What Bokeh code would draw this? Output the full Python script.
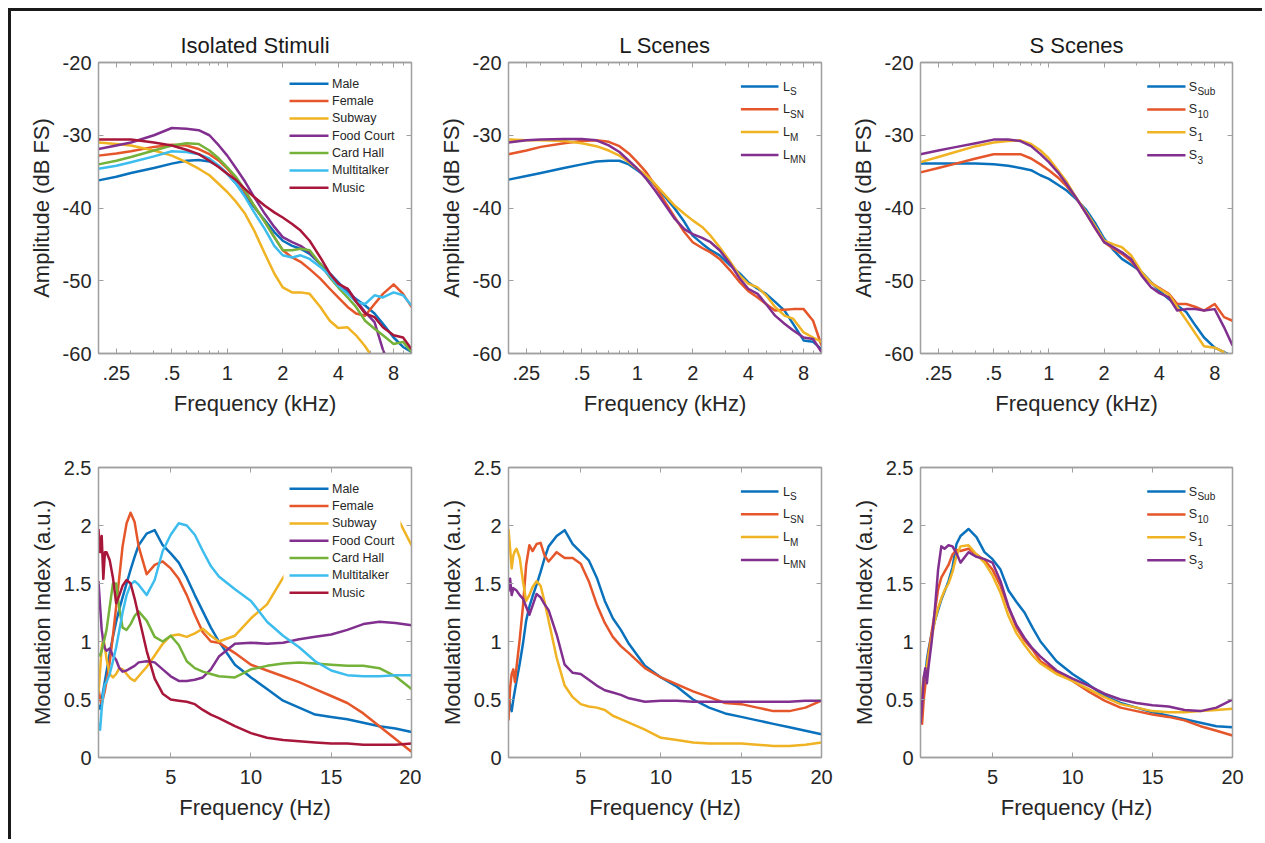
from bokeh.plotting import figure
from bokeh.models import (Range1d, FixedTicker, LogAxis, LinearAxis, Label, Arrow,
                          BoxAnnotation, CustomJSTickFormatter)
from bokeh.layouts import column, row
from bokeh.embed import file_html
from bokeh.resources import INLINE

# ---------------- data ----------------
F_KHZ = [0.2, 0.25, 0.3, 0.4, 0.5, 0.6, 0.7, 0.8, 0.9, 1.0, 1.12, 1.25, 1.4, 1.6, 1.8,
         2.0, 2.25, 2.5, 2.8, 3.2, 3.6, 4.0, 4.5, 5.0, 5.6, 6.3, 7.0, 8.0, 9.0, 10.0]

AMP_MALE = [-36.2, -35.7, -35.2, -34.5, -33.9, -33.5, -33.4, -33.6, -34.2, -35.3, -36.7, -38.3, -39.9, -41.7, -43.3,
            -44.5, -45.2, -45.6, -46.3, -47.7, -49.0, -50.2, -51.6, -52.5, -53.4, -54.5, -55.9, -57.8, -59.1, -59.8]
AMP_FEMALE = [-32.8, -32.5, -32.2, -31.6, -31.3, -31.4, -31.9, -32.6, -33.5, -34.6, -36.0, -37.8, -39.7, -41.9, -44.0,
              -45.8, -46.8, -47.4, -48.4, -49.7, -51.1, -52.3, -53.6, -54.5, -54.8, -53.2, -51.8, -50.5, -51.8, -53.6]
AMP_SUBWAY = [-31.0, -31.2, -31.4, -32.1, -32.8, -33.7, -34.6, -35.5, -36.7, -37.8, -39.2, -40.8, -43.1, -46.3, -49.0,
              -50.9, -51.6, -51.6, -51.8, -53.6, -55.5, -56.5, -56.4, -57.5, -59.0, -61.0, -63.0, -65.0, -67.0, -69.0]
AMP_FOOD = [-31.9, -31.4, -31.0, -30.0, -29.0, -29.1, -29.3, -30.0, -31.4, -32.8, -34.6, -36.4, -38.5, -40.8, -42.6,
            -44.0, -44.7, -45.2, -46.1, -47.7, -49.5, -50.8, -51.1, -52.7, -54.3, -55.7, -59.5, -63.0, -65.0, -67.0]
AMP_CARD = [-34.0, -33.5, -33.0, -32.1, -31.4, -31.1, -31.2, -32.1, -33.2, -34.4, -35.8, -37.6, -39.7, -41.9, -44.0,
            -45.8, -45.8, -45.6, -45.8, -47.7, -49.5, -50.9, -52.3, -53.6, -55.5, -56.6, -57.5, -58.7, -58.4, -59.8]
AMP_MULTI = [-34.6, -34.2, -33.7, -32.9, -32.2, -32.3, -32.6, -33.2, -34.2, -35.3, -36.7, -38.5, -40.6, -42.9, -45.2,
             -46.5, -46.8, -46.5, -47.0, -48.1, -49.3, -50.7, -51.8, -52.9, -53.2, -52.0, -52.3, -51.6, -52.0, -53.4]
AMP_MUSIC = [-30.6, -30.6, -30.6, -31.0, -31.4, -32.0, -32.6, -33.5, -34.4, -35.3, -36.2, -37.4, -38.5, -39.7, -40.6,
             -41.3, -42.2, -43.1, -44.5, -46.8, -49.0, -50.4, -51.1, -52.9, -54.5, -55.0, -56.4, -57.5, -57.8, -59.4]

AMP_LS = [-36.1, -35.6, -35.2, -34.5, -34.0, -33.6, -33.5, -33.5, -34.0, -34.8, -35.7, -36.9, -38.3, -40.1, -41.9,
          -43.8, -44.9, -45.8, -46.5, -47.9, -49.0, -50.2, -51.1, -51.8, -52.9, -54.1, -55.9, -58.2, -58.4, -59.4]
AMP_LSN = [-32.6, -32.1, -31.6, -31.1, -30.8, -30.7, -30.9, -31.5, -32.5, -33.7, -35.1, -36.9, -39.0, -41.3, -43.3,
           -44.7, -45.5, -46.1, -47.0, -48.6, -50.2, -51.4, -52.3, -53.2, -54.1, -54.0, -53.9, -53.9, -55.5, -58.9]
AMP_LM = [-30.6, -30.7, -30.7, -30.8, -31.1, -31.5, -32.1, -32.8, -33.7, -34.6, -35.5, -36.7, -38.1, -39.7, -40.8,
          -41.7, -42.6, -43.8, -45.4, -47.4, -49.3, -50.4, -50.9, -52.0, -53.6, -54.8, -55.2, -57.1, -57.8, -58.4]
AMP_LMN = [-31.0, -30.7, -30.6, -30.5, -30.5, -30.7, -31.4, -32.3, -33.5, -34.6, -36.0, -37.6, -39.4, -41.5, -42.9,
           -43.6, -44.1, -44.7, -45.8, -47.7, -49.7, -51.1, -51.8, -53.2, -54.8, -55.9, -56.8, -57.8, -58.0, -59.8]

AMP_SSUB = [-33.9, -33.9, -33.9, -33.9, -34.0, -34.2, -34.5, -34.8, -35.5, -36.0, -36.8, -37.6, -38.7, -40.3, -42.2,
            -44.2, -45.8, -47.0, -47.8, -48.8, -50.2, -51.4, -52.5, -53.4, -54.3, -56.2, -57.8, -59.2, -59.8, -60.4]
AMP_S10 = [-35.1, -34.5, -34.0, -33.2, -32.6, -32.6, -32.6, -33.2, -34.0, -34.8, -35.8, -37.0, -38.5, -40.8, -42.9,
           -44.7, -45.6, -46.3, -47.3, -49.0, -50.3, -51.0, -51.8, -53.2, -53.2, -53.6, -54.1, -53.2, -55.0, -55.5]
AMP_S1 = [-33.7, -33.0, -32.4, -31.5, -31.0, -30.8, -30.7, -31.2, -32.1, -33.2, -34.8, -36.4, -38.5, -40.6, -42.6,
          -44.5, -45.0, -45.4, -46.5, -48.8, -50.3, -51.1, -51.9, -53.6, -55.4, -57.3, -59.0, -59.2, -59.8, -61.0]
AMP_S3 = [-32.6, -32.1, -31.7, -31.1, -30.6, -30.6, -30.8, -31.5, -32.6, -33.7, -35.1, -36.7, -38.5, -40.8, -42.9,
          -44.7, -45.4, -46.1, -47.0, -49.3, -50.9, -51.7, -52.3, -54.1, -53.9, -53.9, -54.1, -53.9, -56.4, -58.9]

F_HZ = [0.5, 0.6, 0.7, 0.8, 0.9, 1.0, 1.2, 1.4, 1.6, 1.8, 2.0, 2.25, 2.5, 2.75, 3.0, 3.5, 4.0, 4.5, 5.0,
        5.5, 6.0, 6.5, 7.0, 7.5, 8.0, 9.0, 10, 11, 12, 13, 14, 15, 16, 17, 18, 19, 20]

MI_MALE = [0.45, 0.42, 0.50, 0.58, 0.66, 0.74, 0.90, 1.04, 1.17, 1.28, 1.38, 1.50, 1.62, 1.73, 1.83, 1.93, 1.96, 1.83, 1.76,
           1.68, 1.55, 1.40, 1.26, 1.12, 1.00, 0.80, 0.69, 0.59, 0.49, 0.43, 0.37, 0.35, 0.33, 0.30, 0.27, 0.25, 0.22]
MI_FEMALE = [0.60, 0.50, 0.46, 0.52, 0.58, 0.66, 0.82, 1.05, 1.30, 1.56, 1.82, 2.02, 2.11, 2.03, 1.82, 1.58, 1.66, 1.69, 1.63,
             1.54, 1.40, 1.23, 1.08, 1.00, 0.99, 0.90, 0.80, 0.75, 0.70, 0.65, 0.59, 0.53, 0.47, 0.38, 0.27, 0.16, 0.05]
MI_SUBWAY = [0.55, 0.75, 0.95, 1.03, 0.95, 0.85, 0.72, 0.69, 0.72, 0.77, 0.76, 0.72, 0.68, 0.66, 0.70, 0.78, 0.88, 0.98, 1.05,
             1.06, 1.04, 1.07, 1.11, 1.05, 1.00, 1.05, 1.20, 1.32, 1.55, 1.75, 1.85, 1.92, 1.97, 2.02, 2.08, 2.10, 1.83]
MI_FOOD = [1.52, 1.30, 1.10, 1.00, 0.94, 0.92, 0.94, 0.88, 0.84, 0.77, 0.74, 0.75, 0.77, 0.79, 0.82, 0.83, 0.82, 0.76, 0.70,
           0.66, 0.66, 0.67, 0.69, 0.76, 0.87, 0.98, 0.99, 0.98, 0.99, 1.02, 1.04, 1.06, 1.10, 1.15, 1.17, 1.16, 1.14]
MI_CARD = [0.89, 0.88, 0.92, 0.98, 1.04, 1.10, 1.30, 1.50, 1.50, 1.28, 1.12, 1.10, 1.15, 1.22, 1.26, 1.18, 1.04, 1.00, 1.05,
           0.97, 0.83, 0.77, 0.74, 0.72, 0.70, 0.69, 0.76, 0.79, 0.81, 0.82, 0.81, 0.80, 0.79, 0.79, 0.77, 0.70, 0.59]
MI_MULTI = [0.30, 0.24, 0.42, 0.55, 0.63, 0.65, 0.72, 0.83, 0.95, 1.10, 1.25, 1.40, 1.49, 1.52, 1.49, 1.40, 1.53, 1.78, 1.92,
            2.02, 2.00, 1.92, 1.78, 1.65, 1.56, 1.45, 1.35, 1.17, 1.05, 0.95, 0.83, 0.75, 0.71, 0.70, 0.70, 0.71, 0.71]
MI_MUSIC = [1.97, 1.77, 1.91, 1.54, 1.77, 1.77, 1.70, 1.55, 1.33, 1.40, 1.48, 1.53, 1.50, 1.37, 1.22, 0.92, 0.68, 0.55, 0.50,
            0.49, 0.48, 0.46, 0.41, 0.37, 0.34, 0.27, 0.21, 0.17, 0.15, 0.14, 0.13, 0.12, 0.12, 0.11, 0.11, 0.11, 0.12]

MI_LS = [0.52, 0.45, 0.40, 0.50, 0.58, 0.66, 0.81, 0.98, 1.18, 1.30, 1.39, 1.49, 1.60, 1.72, 1.82, 1.91, 1.96, 1.84, 1.77,
         1.70, 1.55, 1.35, 1.20, 1.10, 0.98, 0.79, 0.69, 0.61, 0.50, 0.43, 0.38, 0.35, 0.32, 0.29, 0.26, 0.23, 0.20]
MI_LSN = [0.32, 0.60, 0.72, 0.76, 0.65, 0.78, 1.02, 1.30, 1.66, 1.83, 1.78, 1.84, 1.85, 1.74, 1.69, 1.77, 1.72, 1.72, 1.67,
          1.52, 1.32, 1.16, 1.04, 0.96, 0.90, 0.77, 0.69, 0.63, 0.57, 0.52, 0.47, 0.46, 0.43, 0.40, 0.40, 0.43, 0.49]
MI_LM = [1.97, 1.80, 1.63, 1.74, 1.78, 1.80, 1.72, 1.52, 1.35, 1.40, 1.47, 1.52, 1.48, 1.34, 1.18, 0.86, 0.62, 0.52, 0.46,
         0.44, 0.43, 0.41, 0.36, 0.33, 0.30, 0.24, 0.17, 0.15, 0.13, 0.12, 0.12, 0.12, 0.11, 0.10, 0.10, 0.11, 0.13]
MI_LMN = [1.43, 1.54, 1.40, 1.46, 1.45, 1.44, 1.40, 1.37, 1.30, 1.23, 1.31, 1.41, 1.38, 1.32, 1.27, 1.06, 0.80, 0.73, 0.72,
          0.67, 0.62, 0.58, 0.56, 0.54, 0.51, 0.48, 0.49, 0.49, 0.48, 0.48, 0.48, 0.48, 0.48, 0.48, 0.48, 0.49, 0.49]

MI_SSUB = [0.52, 0.57, 0.63, 0.72, 0.84, 0.93, 1.07, 1.18, 1.27, 1.36, 1.43, 1.52, 1.64, 1.84, 1.91, 1.97, 1.90, 1.77, 1.71,
           1.62, 1.44, 1.34, 1.25, 1.12, 1.00, 0.83, 0.72, 0.63, 0.53, 0.47, 0.43, 0.39, 0.36, 0.33, 0.30, 0.27, 0.26]
MI_S10 = [0.37, 0.29, 0.50, 0.62, 0.78, 0.90, 1.08, 1.26, 1.45, 1.55, 1.60, 1.66, 1.75, 1.79, 1.78, 1.80, 1.75, 1.70, 1.62,
          1.48, 1.29, 1.12, 1.01, 0.93, 0.83, 0.74, 0.66, 0.57, 0.49, 0.43, 0.40, 0.37, 0.35, 0.32, 0.27, 0.23, 0.19]
MI_S1 = [0.46, 0.58, 0.69, 0.74, 0.79, 0.88, 1.03, 1.18, 1.29, 1.37, 1.44, 1.50, 1.60, 1.74, 1.82, 1.83, 1.75, 1.68, 1.57,
         1.42, 1.22, 1.07, 0.97, 0.88, 0.81, 0.72, 0.66, 0.59, 0.52, 0.46, 0.43, 0.40, 0.39, 0.39, 0.40, 0.41, 0.42]
MI_S3 = [0.29, 0.46, 0.69, 0.77, 0.64, 0.78, 1.00, 1.28, 1.62, 1.82, 1.80, 1.83, 1.82, 1.76, 1.68, 1.77, 1.73, 1.71, 1.68,
         1.52, 1.30, 1.14, 1.03, 0.94, 0.87, 0.75, 0.68, 0.62, 0.55, 0.50, 0.47, 0.45, 0.44, 0.41, 0.40, 0.43, 0.50]

ISO_NAMES = ["Male", "Female", "Subway", "Food Court", "Card Hall", "Multitalker", "Music"]
L_NAMES = [("L", "S"), ("L", "SN"), ("L", "M"), ("L", "MN")]
S_NAMES = [("S", "Sub"), ("S", "10"), ("S", "1"), ("S", "3")]

KHZ_TICKS = [0.25, 0.5, 1, 2, 4, 8]
KHZ_LABELS = [".25", ".5", "1", "2", "4", "8"]
KHZ_MINOR = [0.3, 0.4, 0.6, 0.7, 0.8, 0.9, 3, 5, 6, 7, 9]
AMP_TICKS = [-60, -50, -40, -30, -20]
AMP_LABELS = ["-60", "-50", "-40", "-30", "-20"]
HZ_TICKS = [5, 10, 15, 20]
HZ_LABELS = ["5", "10", "15", "20"]
MI_TICKS = [0, 0.5, 1, 1.5, 2, 2.5]
MI_LABELS = ["0", "0.5", "1", "1.5", "2", "2.5"]

TITLES = ["Isolated Stimuli", "L Scenes", "S Scenes"]

# ---------------- style ----------------
FONT = "Liberation Sans"
INK = "#262626"
GRAY = "#a0a0a0"
C7 = ["#0a72bd", "#e5562a", "#f0b323", "#82308f", "#74b23a", "#3dbdee", "#a8163a"]

COLS = [  # min_border_left, frame_width, min_border_right, legend spec (frame pixels)
    dict(ml=87, fw=313, mr=10, box=(185, 302, 9, 134), line=(191, 230), tx=233.5, y0=21.2, dy=17.35, sub=0),
    dict(ml=87, fw=313, mr=12, box=(226, 306, 11, 104), line=(232.4, 270), tx=274.4, y0=24.0, dy=22.8, sub=7.2),
    dict(ml=87, fw=312, mr=30, box=(221, 305, 11, 104), line=(226.7, 265), tx=268.3, y0=24.0, dy=22.9, sub=8.6),
]
ROWS = [dict(mt=51, fh=291, mb=70), dict(mt=44, fh=290, mb=82)]

blank = CustomJSTickFormatter(code="return ''")


def make_panel(ci, ri, title, xs, series, names):
    c, r = COLS[ci], ROWS[ri]
    top = ri == 0
    kw = dict(frame_width=c["fw"], frame_height=r["fh"], min_border_left=c["ml"], min_border_right=c["mr"],
              min_border_top=r["mt"], min_border_bottom=r["mb"], output_backend="svg", toolbar_location=None,
              background_fill_color="white", border_fill_color="white", outline_line_color=GRAY,
              outline_line_width=1.3)
    if top:
        p = figure(x_axis_type="log", x_range=Range1d(0.2, 10), y_range=Range1d(-60, -20), **kw)
        xt, xl, xm = KHZ_TICKS, KHZ_LABELS, KHZ_MINOR
        yt, yl = AMP_TICKS, AMP_LABELS
        xlab, ylab = "Frequency (kHz)", "Amplitude (dB FS)"
    else:
        p = figure(x_range=Range1d(0.5, 20), y_range=Range1d(0, 2.5), **kw)
        xt, xl, xm = HZ_TICKS, HZ_LABELS, []
        yt, yl = MI_TICKS, MI_LABELS
        xlab, ylab = "Frequency (Hz)", "Modulation Index (a.u.)"
    p.xgrid.visible = False
    p.ygrid.visible = False
    if title:
        p.title.text = title
        p.title.align = "center"
        p.title.text_font = FONT
        p.title.text_font_size = "22px"
        p.title.text_font_style = "normal"
        p.title.text_color = "#1a1a1a"
        p.title.standoff = 9

    bottom_ax = p.below[0]
    left_ax = p.left[0]
    bottom_ax.ticker = FixedTicker(ticks=xt, minor_ticks=xm)
    bottom_ax.major_label_overrides = dict(zip(xt, xl))
    left_ax.ticker = FixedTicker(ticks=yt)
    left_ax.major_label_overrides = dict(zip(yt, yl))
    bottom_ax.axis_label = xlab
    left_ax.axis_label = ylab

    top_ax = (LogAxis if top else LinearAxis)(ticker=FixedTicker(ticks=xt, minor_ticks=xm), formatter=blank)
    right_ax = LinearAxis(ticker=FixedTicker(ticks=yt), formatter=blank)
    p.add_layout(top_ax, "above")
    p.add_layout(right_ax, "right")

    for ax in (bottom_ax, left_ax, top_ax, right_ax):
        ax.axis_line_color = GRAY
        ax.axis_line_width = 1.3
        ax.major_tick_line_color = GRAY
        ax.minor_tick_line_color = GRAY
        ax.major_tick_in = 5
        ax.major_tick_out = 0
        ax.minor_tick_in = 3
        ax.minor_tick_out = 0
        ax.major_label_text_font = FONT
        ax.major_label_text_font_size = "20px"
        ax.major_label_text_color = INK
        ax.axis_label_text_font = FONT
        ax.axis_label_text_font_size = "22px"
        ax.axis_label_text_font_style = "normal"
        ax.axis_label_text_color = INK
    bottom_ax.major_label_standoff = 12
    bottom_ax.axis_label_standoff = 8
    left_ax.major_label_standoff = 7
    left_ax.axis_label_standoff = 6
    left_ax.minor_tick_line_color = None
    right_ax.minor_tick_line_color = None

    for ys, col in zip(series, C7):
        p.line(xs, ys, line_color=col, line_width=2.5, line_join="round")

    # legend (opaque white box, line samples and labels, in frame pixels)
    fh = r["fh"]
    bx0, bx1, by0, by1 = c["box"]
    p.add_layout(BoxAnnotation(left=bx0, right=bx1, top=fh - by0, bottom=fh - by1,
                               left_units="screen", right_units="screen", top_units="screen",
                               bottom_units="screen", fill_color="white", fill_alpha=1.0,
                               line_alpha=0, editable=False))
    for i, (nm, col) in enumerate(zip(names, C7)):
        y = fh - (c["y0"] + i * c["dy"])
        p.add_layout(Arrow(end=None, x_start=c["line"][0], x_end=c["line"][1], y_start=y, y_end=y,
                           start_units="screen", end_units="screen", line_color=col, line_width=2.5))
        main, sub = (nm, None) if isinstance(nm, str) else nm
        p.add_layout(Label(x=c["tx"], y=y, x_units="screen", y_units="screen", text=main,
                           text_font=FONT, text_font_size="12.5px", text_color=INK,
                           text_baseline="middle", text_align="left"))
        if sub:
            p.add_layout(Label(x=c["tx"] + c["sub"], y=y - 5, x_units="screen", y_units="screen", text=sub,
                               text_font=FONT, text_font_size="10px", text_color=INK,
                               text_baseline="middle", text_align="left"))
    return p


p1 = make_panel(0, 0, TITLES[0], F_KHZ,
                [AMP_MALE, AMP_FEMALE, AMP_SUBWAY, AMP_FOOD, AMP_CARD, AMP_MULTI, AMP_MUSIC], ISO_NAMES)
p2 = make_panel(1, 0, TITLES[1], F_KHZ, [AMP_LS, AMP_LSN, AMP_LM, AMP_LMN], L_NAMES)
p3 = make_panel(2, 0, TITLES[2], F_KHZ, [AMP_SSUB, AMP_S10, AMP_S1, AMP_S3], S_NAMES)
p4 = make_panel(0, 1, None, F_HZ,
                [MI_MALE, MI_FEMALE, MI_SUBWAY, MI_FOOD, MI_CARD, MI_MULTI, MI_MUSIC], ISO_NAMES)
p5 = make_panel(1, 1, None, F_HZ, [MI_LS, MI_LSN, MI_LM, MI_LMN], L_NAMES)
p6 = make_panel(2, 1, None, F_HZ, [MI_SSUB, MI_S10, MI_S1, MI_S3], S_NAMES)

layout = column(row(p1, p2, p3), row(p4, p5, p6), margin=(8, 0, 0, 8),
                styles={"border-left": "3px solid #1a1a1a", "border-top": "3px solid #1a1a1a"})

open("out.html", "w").write(file_html(layout, INLINE))
